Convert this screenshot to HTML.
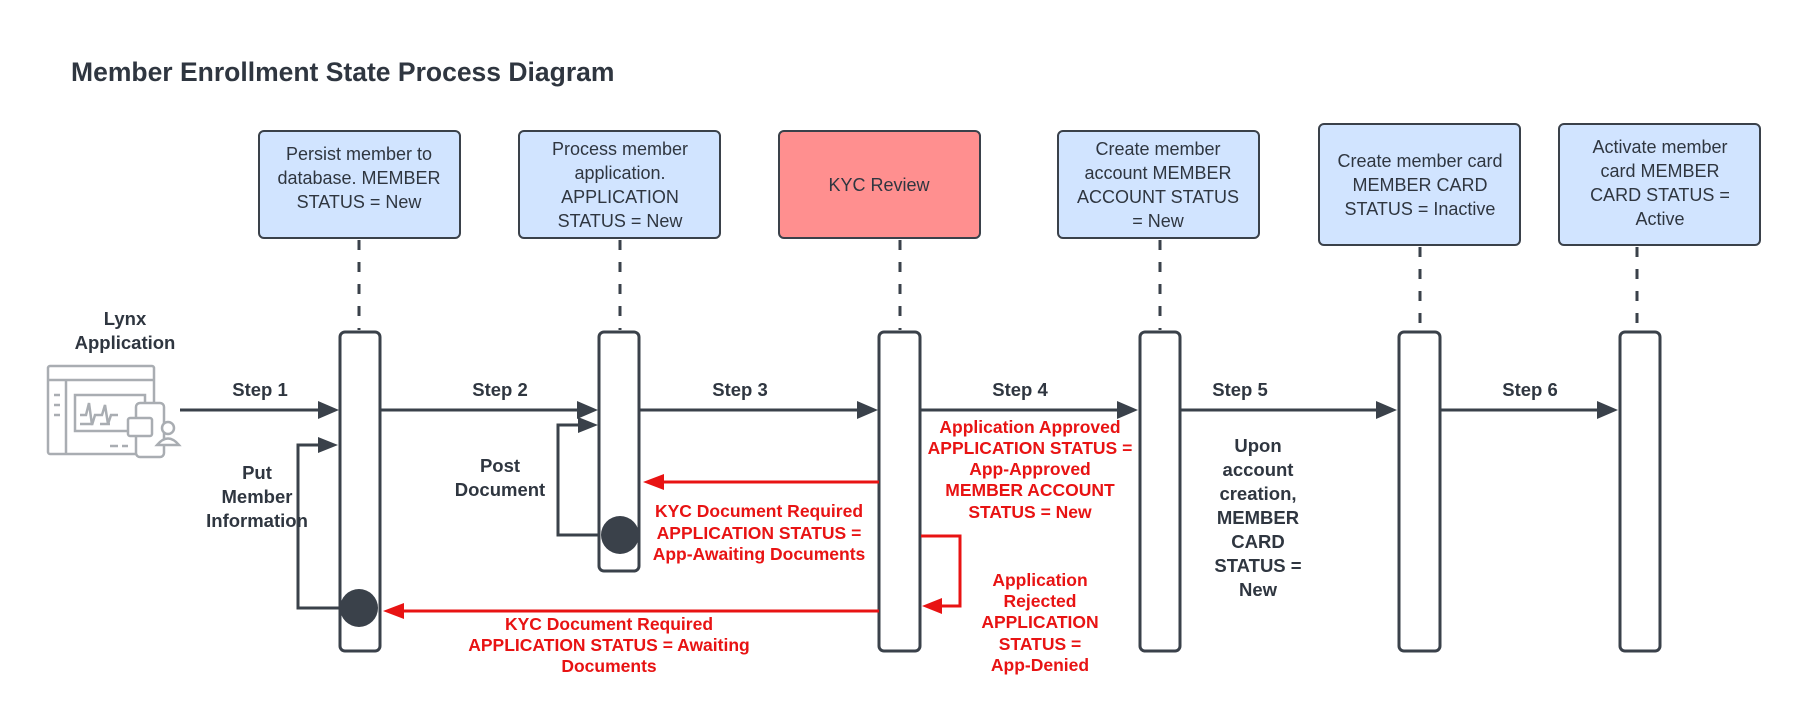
<!DOCTYPE html>
<html><head><meta charset="utf-8"><style>
html,body{margin:0;padding:0;background:#fff}
svg{display:block}
text{font-family:"Liberation Sans",Arial,sans-serif}
.bx{font-size:18px;fill:#2f3640}
.st{font-size:18.5px;font-weight:bold;fill:#2f3640}
.rd{font-size:17.5px;font-weight:bold;fill:#e81313}
</style></head><body>
<svg width="1800" height="726" viewBox="0 0 1800 726" xmlns="http://www.w3.org/2000/svg">
<text x="71" y="81" font-size="26.5" font-weight="bold" fill="#2f3640">Member Enrollment State Process Diagram</text>

<g stroke="#3a414a" stroke-width="2">
<rect x="259" y="131" width="201" height="107" rx="5" fill="#d1e4ff"/>
<rect x="519" y="131" width="201" height="107" rx="5" fill="#d1e4ff"/>
<rect x="779" y="131" width="201" height="107" rx="5" fill="#ff8f8f"/>
<rect x="1058" y="131" width="201" height="107" rx="5" fill="#d1e4ff"/>
<rect x="1319" y="124" width="201" height="121" rx="5" fill="#d1e4ff"/>
<rect x="1559" y="124" width="201" height="121" rx="5" fill="#d1e4ff"/>
</g>
<g stroke="#3a414a" stroke-width="3" stroke-dasharray="10,12">
<line x1="359" y1="240" x2="359" y2="330"/>
<line x1="620" y1="240" x2="620" y2="330"/>
<line x1="900" y1="240" x2="900" y2="330"/>
<line x1="1160" y1="240" x2="1160" y2="330"/>
<line x1="1420" y1="247" x2="1420" y2="330"/>
<line x1="1637" y1="247" x2="1637" y2="330"/>
</g>

<g class="bx" text-anchor="middle">
<text x="359" y="160">Persist member to</text><text x="359" y="184">database. MEMBER</text><text x="359" y="208">STATUS = New</text>
<text x="620" y="155">Process member</text><text x="620" y="179">application.</text><text x="620" y="203">APPLICATION</text><text x="620" y="227">STATUS = New</text>
<text x="879" y="191">KYC Review</text>
<text x="1158" y="155">Create member</text><text x="1158" y="179">account MEMBER</text><text x="1158" y="203">ACCOUNT STATUS</text><text x="1158" y="227">= New</text>
<text x="1420" y="167">Create member card</text><text x="1420" y="191">MEMBER CARD</text><text x="1420" y="215">STATUS = Inactive</text>
<text x="1660" y="153">Activate member</text><text x="1660" y="177">card  MEMBER</text><text x="1660" y="201">CARD STATUS =</text><text x="1660" y="225">Active</text>
</g>

<g fill="none" stroke="#3a414a" stroke-width="3">
<polyline points="359,608 298,608 298,445 330,445"/>
<polyline points="620,535 558,535 558,425 590,425"/>
</g>
<path d="M338,445 L318,437 L318,453z" fill="#3a414a"/>
<path d="M598,425 L578,417 L578,433z" fill="#3a414a"/>

<g stroke="#3a414a" stroke-width="3" fill="#fff">
<rect x="340" y="332" width="40" height="319" rx="5"/>
<rect x="599" y="332" width="40" height="239" rx="5"/>
<rect x="879" y="332" width="41" height="319" rx="5"/>
<rect x="1140" y="332" width="40" height="319" rx="5"/>
<rect x="1399" y="332" width="41" height="319" rx="5"/>
<rect x="1620" y="332" width="40" height="319" rx="5"/>
</g>
<circle cx="359" cy="608" r="19" fill="#3a414a"/>
<circle cx="620" cy="535" r="19" fill="#3a414a"/>

<g stroke="#3a414a" stroke-width="3">
<line x1="180" y1="410" x2="322" y2="410"/>
<line x1="381" y1="410" x2="581" y2="410"/>
<line x1="640" y1="410" x2="861" y2="410"/>
<line x1="921" y1="410" x2="1121" y2="410"/>
<line x1="1181" y1="410" x2="1380" y2="410"/>
<line x1="1441" y1="410" x2="1601" y2="410"/>
</g>
<g fill="#3a414a">
<path d="M339,410 L318,401 L318,419z"/>
<path d="M598,410 L577,401 L577,419z"/>
<path d="M878,410 L857,401 L857,419z"/>
<path d="M1138,410 L1117,401 L1117,419z"/>
<path d="M1397,410 L1376,401 L1376,419z"/>
<path d="M1618,410 L1597,401 L1597,419z"/>
</g>
<g class="st" text-anchor="middle">
<text x="260" y="396">Step 1</text>
<text x="500" y="396">Step 2</text>
<text x="740" y="396">Step 3</text>
<text x="1020" y="396">Step 4</text>
<text x="1240" y="396">Step 5</text>
<text x="1530" y="396">Step 6</text>
<text x="125" y="325">Lynx</text><text x="125" y="349">Application</text>
<text x="257" y="479">Put</text><text x="257" y="503">Member</text><text x="257" y="527">Information</text>
<text x="500" y="472">Post</text><text x="500" y="496">Document</text>
<text x="1258" y="452">Upon</text><text x="1258" y="476">account</text><text x="1258" y="500">creation,</text><text x="1258" y="524">MEMBER</text><text x="1258" y="548">CARD</text><text x="1258" y="572">STATUS =</text><text x="1258" y="596">New</text>
</g>

<g stroke="#e81313" stroke-width="3" fill="none">
<line x1="879" y1="482" x2="660" y2="482"/>
<line x1="879" y1="611" x2="400" y2="611"/>
<polyline points="921,536 960,536 960,606 938,606"/>
</g>
<g fill="#e81313">
<path d="M643,482 L664,474 L664,490z"/>
<path d="M383,611 L404,603 L404,619z"/>
<path d="M922,606 L942,598 L942,614z"/>
</g>
<g class="rd" text-anchor="middle">
<text x="759" y="517">KYC Document Required</text><text x="759" y="539">APPLICATION STATUS =</text><text x="759" y="560">App-Awaiting Documents</text>
<text x="609" y="630">KYC Document Required</text><text x="609" y="651">APPLICATION STATUS = Awaiting</text><text x="609" y="672">Documents</text>
<text x="1030" y="433">Application Approved</text><text x="1030" y="454">APPLICATION STATUS =</text><text x="1030" y="475">App-Approved</text><text x="1030" y="496">MEMBER ACCOUNT</text><text x="1030" y="518">STATUS = New</text>
<text x="1040" y="586">Application</text><text x="1040" y="607">Rejected</text><text x="1040" y="628">APPLICATION</text><text x="1040" y="650">STATUS =</text><text x="1040" y="671">App-Denied</text>
</g>

<g fill="none" stroke="#a9adb2" stroke-width="2.5">
<rect x="48" y="366" width="106" height="88" rx="2"/>
<line x1="48" y1="380" x2="154" y2="380"/>
<line x1="66" y1="380" x2="66" y2="454"/>
<rect x="75" y="395" width="70" height="36"/>
<polyline points="80,415 86,415 89,403 92,425 95,415 102,415 105,405 108,424 111,415 118,415"/>
<line x1="80" y1="424" x2="92" y2="424"/><line x1="100" y1="424" x2="110" y2="424"/>
<line x1="54" y1="395" x2="60" y2="395"/><line x1="54" y1="405" x2="60" y2="405"/><line x1="54" y1="415" x2="60" y2="415"/>
<rect x="136" y="403" width="28" height="54" rx="4" fill="#fff"/>
<rect x="128" y="418" width="24" height="18" rx="2" fill="#fff"/>
<circle cx="168" cy="428" r="6" fill="#fff"/>
<path d="M157,445 Q168,432 179,445z" fill="#fff"/>
<line x1="110" y1="446" x2="118" y2="446"/><line x1="122" y1="446" x2="128" y2="446"/>
</g>
</svg>
</body></html>
